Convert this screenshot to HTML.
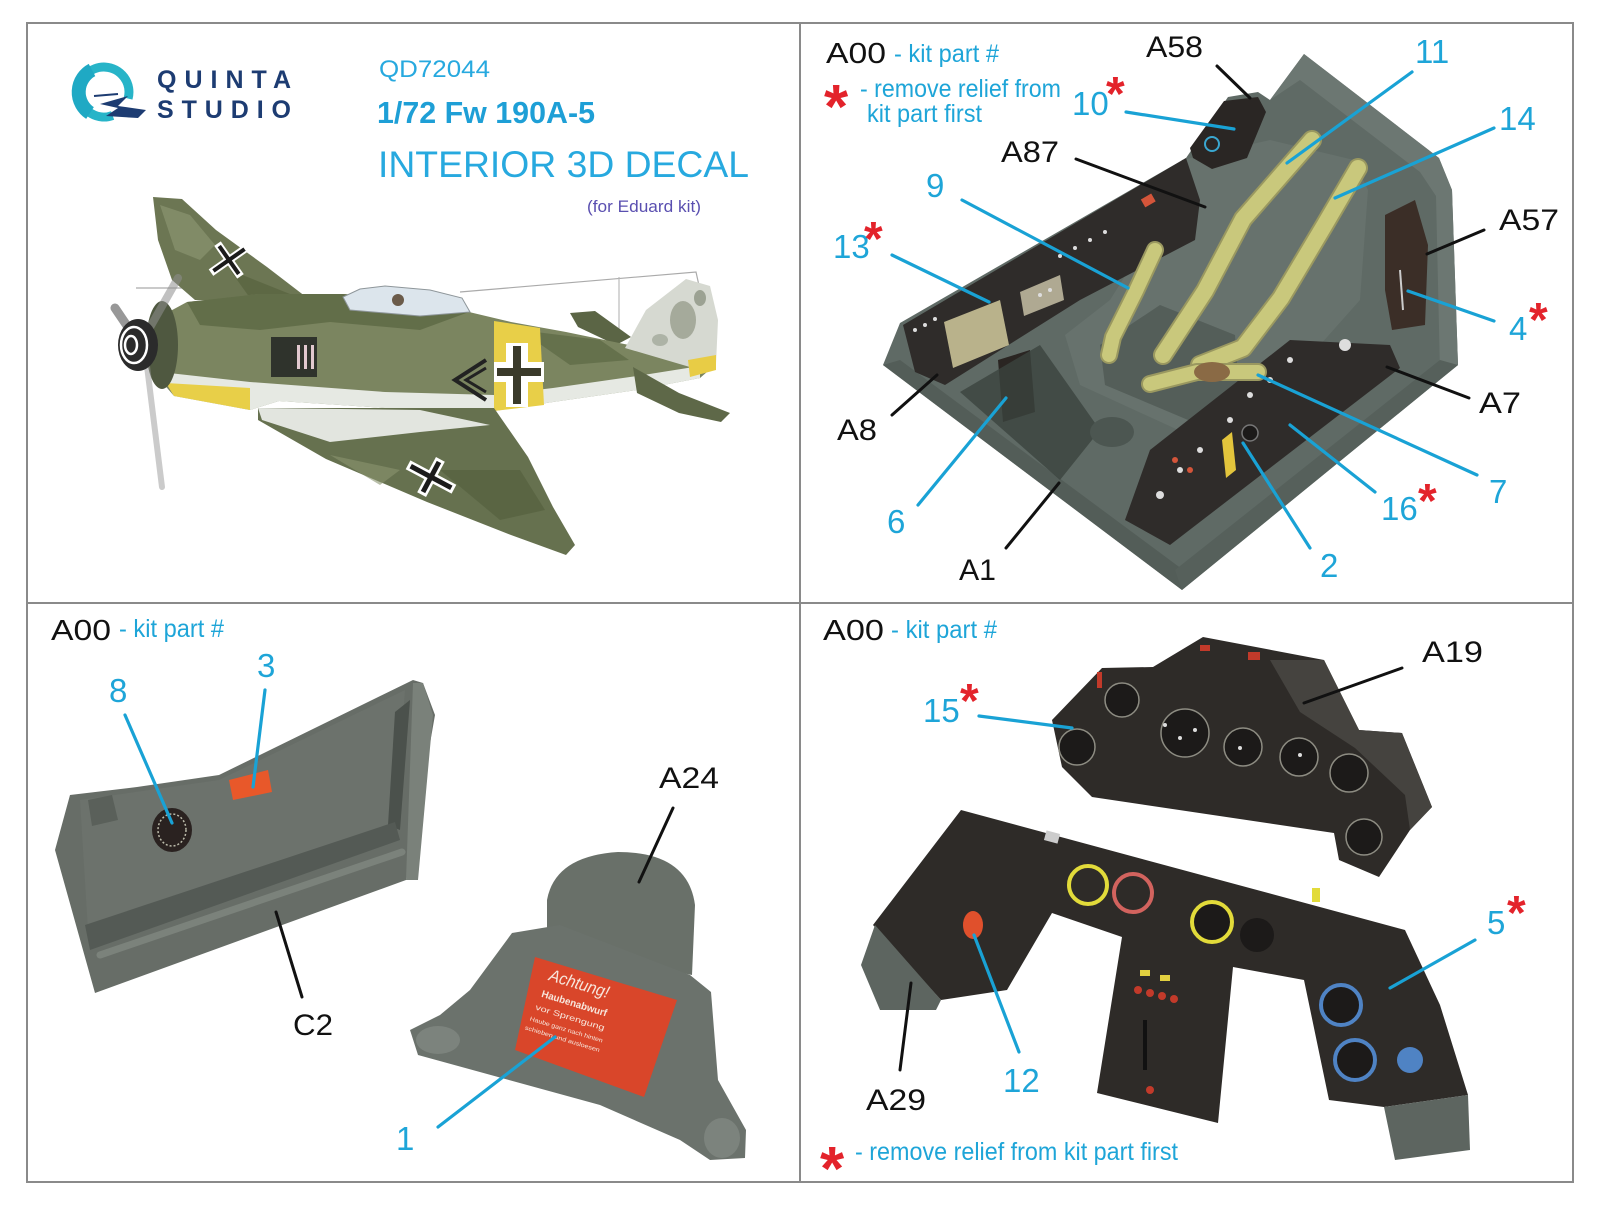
<!DOCTYPE html>
<html><head><meta charset="utf-8"><style>
html,body{margin:0;padding:0;background:#fff;}
svg{display:block;}
text{font-family:"Liberation Sans",Arial,sans-serif;}
</style></head><body>
<svg width="1600" height="1205" viewBox="0 0 1600 1205" xmlns="http://www.w3.org/2000/svg">
<rect width="1600" height="1205" fill="#fff"/>

<!-- ===== TOP LEFT: logo & title ===== -->
<path d="M112.6,115.5 A25,25 0 1 1 128.1,98.5" fill="none" stroke="#27b4c8" stroke-width="9"/>
<path d="M90,113 A25,25 0 0 1 92,70" fill="none" stroke="#1fa9c4" stroke-width="14"/>
<polygon points="100,104 128,96 118,106 146,110 138,118 106,116 118,108" fill="#1d3c72"/>
<line x1="94" y1="96" x2="118" y2="94" stroke="#1d3c72" stroke-width="2"/>
<text x="157" y="88" font-size="25" font-weight="bold" fill="#1d3c72" textLength="134">QUINTA</text>
<text x="157" y="118" font-size="25" font-weight="bold" fill="#1d3c72" textLength="134">STUDIO</text>
<text x="379" y="77" font-size="24" fill="#27a9df" textLength="111" lengthAdjust="spacingAndGlyphs">QD72044</text>
<text x="377" y="123" font-size="31" font-weight="bold" fill="#1e9fd6" textLength="218" lengthAdjust="spacingAndGlyphs">1/72 Fw 190A-5</text>
<text x="378" y="177" font-size="37" fill="#27a9df" textLength="371" lengthAdjust="spacingAndGlyphs">INTERIOR 3D DECAL</text>
<text x="587" y="212" font-size="17" fill="#5a4fb0" textLength="114" lengthAdjust="spacingAndGlyphs">(for Eduard kit)</text>

<!-- plane -->
<g>
<line x1="136" y1="288" x2="190" y2="288" stroke="#aaa" stroke-width="1.2"/>
<polyline points="460,292 696,272 700,290" fill="none" stroke="#aaa" stroke-width="1.2"/>
<line x1="619" y1="277" x2="619" y2="380" stroke="#bbb" stroke-width="1.2"/>
<!-- far wing -->
<polygon points="153,197 182,199 216,230 267,267 310,300 195,300 172,280 158,240" fill="#6c7653"/>
<polygon points="160,205 190,215 215,245 200,260 175,250" fill="#8a9470" opacity="0.7"/>
<polygon points="230,270 300,298 250,298" fill="#57623f" opacity="0.7"/>
<g transform="translate(229,260) rotate(-35)">
<rect x="-22" y="-4" width="44" height="8" fill="#fff"/><rect x="-4" y="-20" width="8" height="40" fill="#fff"/>
<rect x="-19" y="-2" width="38" height="4" fill="#1b1b1b"/><rect x="-2" y="-17" width="4" height="34" fill="#1b1b1b"/>
</g>
<!-- far stabilizer -->
<polygon points="570,313 595,311 631,337 616,345 578,327" fill="#5b6545"/>
<!-- fuselage -->
<path d="M150,322 L187,302 L258,294 L343,294 L400,298 L469,312 L511,322 L566,332 L629,345 L700,352 L715,365 L700,378 L637,390 L553,402 L494,411 L385,408 L279,401 L250,410 L174,396 L150,368 Z" fill="#7b8560"/>
<path d="M187,302 L258,294 L343,294 L400,298 L469,312 L420,330 L330,322 L260,330 L200,325 Z" fill="#5d6844" opacity="0.8"/>
<path d="M520,330 L600,340 L629,360 L570,365 Z" fill="#5d6844" opacity="0.7"/>
<path d="M160,372 L250,382 L385,392 L494,395 L553,388 L637,376 L700,366 L700,378 L637,390 L553,402 L494,411 L385,408 L279,401 L250,410 L174,396 Z" fill="#e6e9e3"/>
<!-- fin -->
<path d="M625,348 L646,310 L686,279 L710,286 L718,320 L716,364 L700,370 Z" fill="#d6d9d1"/>
<ellipse cx="683" cy="320" rx="13" ry="19" fill="#7d8470" opacity="0.55"/>
<ellipse cx="700" cy="298" rx="6" ry="8" fill="#6d7460" opacity="0.55"/>
<ellipse cx="660" cy="340" rx="8" ry="6" fill="#7d8470" opacity="0.45"/>
<polygon points="688,360 716,355 716,370 690,377" fill="#e8cc45"/>
<!-- canopy -->
<polygon points="343,297 360,289 385,286 430,290 462,298 470,312 420,316 350,310" fill="#dce5ec" stroke="#8e969a" stroke-width="1"/>
<circle cx="398" cy="300" r="6" fill="#6b5b4a"/>
<!-- hatch -->
<rect x="271" y="337" width="46" height="40" fill="#2f332c"/>
<rect x="297" y="345" width="3" height="24" fill="#e2c9cf"/><rect x="304" y="345" width="3" height="24" fill="#e2c9cf"/><rect x="311" y="345" width="3" height="24" fill="#e2c9cf"/>
<!-- yellow -->
<polygon points="494,321 540,328 544,405 494,411" fill="#e8cf48"/>
<polygon points="166,383 250,388 250,410 174,396" fill="#e8cf48"/>
<!-- fuselage cross -->
<rect x="506" y="343" width="22" height="64" fill="#fff"/><rect x="494" y="362" width="50" height="20" fill="#fff"/>
<rect x="513" y="346" width="8" height="58" fill="#3a3a2a"/><rect x="497" y="368" width="44" height="8" fill="#3a3a2a"/>
<!-- chevron -->
<polyline points="486,360 455,380 486,400" fill="none" stroke="#222" stroke-width="4"/>
<polyline points="486,368 466,380 486,392" fill="none" stroke="#222" stroke-width="3"/>
<!-- near stabilizer -->
<polygon points="633,367 679,393 730,413 721,422 679,413 637,393" fill="#5e6848"/>
<!-- near wing -->
<path d="M258,408 L494,408 L528,457 L553,507 L575,545 L566,555 L511,535 L427,502 L326,459 L258,420 Z" fill="#66714f"/>
<path d="M258,408 L420,410 L490,425 L420,432 L330,442 L262,420 Z" fill="#e2e5df"/>
<path d="M440,470 L520,470 L545,510 L500,520 Z" fill="#56613f" opacity="0.7"/>
<path d="M330,455 L400,470 L380,485 Z" fill="#8a9470" opacity="0.6"/>
<g transform="translate(431,477) rotate(28)">
<rect x="-26" y="-5" width="52" height="10" fill="#fff"/><rect x="-5" y="-20" width="10" height="40" fill="#fff"/>
<rect x="-23" y="-2.5" width="46" height="5" fill="#1b1b1b"/><rect x="-2.5" y="-17" width="5" height="34" fill="#1b1b1b"/>
</g>
<!-- cowl & spinner -->
<ellipse cx="162" cy="345" rx="16" ry="44" fill="#4f5840"/>
<line x1="140" y1="345" x2="178" y2="278" stroke="#8f8f8f" stroke-width="8" opacity="0.55" stroke-linecap="round"/>
<line x1="140" y1="345" x2="115" y2="308" stroke="#555" stroke-width="9" opacity="0.6" stroke-linecap="round"/>
<line x1="145" y1="350" x2="162" y2="487" stroke="#999" stroke-width="6" opacity="0.5" stroke-linecap="round"/>
<ellipse cx="138" cy="345" rx="20" ry="26" fill="#2b2b2b"/>
<ellipse cx="134" cy="345" rx="13" ry="18" fill="none" stroke="#fff" stroke-width="2.5"/>
<ellipse cx="131" cy="345" rx="6" ry="9" fill="none" stroke="#fff" stroke-width="2.5"/>
</g>

<!-- ===== TOP RIGHT: cockpit tub ===== -->
<polygon points="1304,54 1439,158 1452,190 1458,365 1182,590 883,365 900,323 1186,158 1228,97 1258,92 1270,100" fill="#5f6a65"/>
<polygon points="1304,54 1439,158 1452,190 1458,365 1440,372 1436,196 1420,172 1300,80 1270,100" fill="#6c7772"/>
<polygon points="883,365 1182,590 1190,575 900,360" fill="#535d58"/>
<polygon points="1182,590 1458,365 1440,360 1175,570" fill="#56605b"/>
<!-- seat -->
<polygon points="1182,160 1270,140 1354,160 1368,190 1360,300 1320,345 1250,430 1200,440 1080,385 1065,335 1110,300 1160,220" fill="#67726d"/>
<polygon points="1100,345 1160,305 1235,335 1240,405 1200,425 1105,385" fill="#545e59"/>
<!-- left console -->
<polygon points="903,325 1186,158 1200,200 1195,240 1080,300 945,385 915,372" fill="#2f2c2a"/>
<polygon points="944,322 1000,300 1009,345 953,368" fill="#b9b28b"/>
<polygon points="1020,292 1060,275 1064,300 1024,316" fill="#cfc9ad" opacity="0.8"/>
<rect x="1142" y="196" width="12" height="9" fill="#d4553a" transform="rotate(-30 1148 200)"/>
<g fill="#ddd"><circle cx="915" cy="330" r="2"/><circle cx="925" cy="325" r="2"/><circle cx="935" cy="319" r="2"/><circle cx="1040" cy="295" r="2"/><circle cx="1050" cy="290" r="2"/><circle cx="1060" cy="256" r="2"/><circle cx="1075" cy="248" r="2"/><circle cx="1090" cy="240" r="2"/><circle cx="1105" cy="232" r="2"/></g>
<polygon points="998,360 1030,350 1035,412 1003,422" fill="#2a2522"/>
<polygon points="960,392 1040,345 1100,430 1060,480" fill="#3b433f" opacity="0.8"/>
<ellipse cx="1112" cy="432" rx="22" ry="15" fill="#4c5651"/>
<!-- right console -->
<polygon points="1150,450 1290,340 1390,345 1400,368 1170,545 1125,520" fill="#2f2c2a"/>
<g fill="#ddd"><circle cx="1345" cy="345" r="6"/><circle cx="1290" cy="360" r="3"/><circle cx="1270" cy="380" r="3"/><circle cx="1250" cy="395" r="3"/><circle cx="1230" cy="420" r="3"/><circle cx="1200" cy="450" r="3"/><circle cx="1180" cy="470" r="3"/><circle cx="1160" cy="495" r="4"/></g>
<g fill="#d4553a"><circle cx="1175" cy="460" r="3"/><circle cx="1190" cy="470" r="3"/></g>
<circle cx="1250" cy="433" r="8" fill="#1c1a19" stroke="#777" stroke-width="1.5"/>
<polygon points="1222,440 1232,432 1236,470 1226,478" fill="#e3c53c"/>
<!-- A57 panel -->
<polygon points="1385,215 1415,200 1428,245 1425,325 1392,330 1385,290" fill="#3b2e27"/>
<line x1="1400" y1="270" x2="1403" y2="310" stroke="#ccc" stroke-width="2"/>
<!-- A58 -->
<polygon points="1190,148 1224,101 1258,97 1266,112 1247,158 1212,169 1193,158" fill="#2a2624"/>
<circle cx="1212" cy="144" r="7" fill="none" stroke="#3aa7d0" stroke-width="2"/>
<!-- belts -->
<g fill="none" stroke-linecap="round" stroke-linejoin="round">
<polyline points="1312,140 1243,219 1205,291 1163,355" stroke="#9a9860" stroke-width="20"/>
<polyline points="1312,140 1243,219 1205,291 1163,355" stroke="#c9c87c" stroke-width="16"/>
<polyline points="1358,168 1324,226 1281,298 1243,348 1200,365" stroke="#9a9860" stroke-width="20"/>
<polyline points="1358,168 1324,226 1281,298 1243,348 1200,365" stroke="#c9c87c" stroke-width="16"/>
<polyline points="1155,250 1136,291 1113,337 1109,355" stroke="#9a9860" stroke-width="18"/>
<polyline points="1155,250 1136,291 1113,337 1109,355" stroke="#c9c87c" stroke-width="14"/>
<polyline points="1258,372 1197,372 1150,384" stroke="#9a9860" stroke-width="18"/>
<polyline points="1258,372 1197,372 1150,384" stroke="#c9c87c" stroke-width="14"/>
</g>
<ellipse cx="1212" cy="372" rx="18" ry="10" fill="#8a6a45"/>

<!-- ===== BOTTOM LEFT ===== -->
<polygon points="70,795 137,787 219,775 413,680 423,683 435,715 406,880 95,993 55,850" fill="#676d67"/>
<polygon points="80,800 219,780 405,690 395,825 88,930" fill="#6c726c"/>
<polygon points="395,712 410,700 400,830 388,825" fill="#4b514c"/>
<polygon points="413,683 423,683 433,715 418,880 406,880" fill="#7a817a"/>
<polygon points="85,925 395,822 400,840 90,950" fill="#545a55"/>
<line x1="100" y1="955" x2="402" y2="852" stroke="#7b827b" stroke-width="7" stroke-linecap="round"/>
<polygon points="88,800 112,795 118,820 92,826" fill="#5a605a"/>
<ellipse cx="172" cy="830" rx="20" ry="22" fill="#2a2220"/>
<ellipse cx="172" cy="830" rx="14" ry="16" fill="none" stroke="#bba" stroke-width="1.5" stroke-dasharray="2 2"/>
<polygon points="229,780 268,770 272,792 233,800" fill="#e8582a"/>
<!-- A24 -->
<path d="M547,945 L547,900 Q555,856 618,852 Q688,852 695,905 L692,975 Z" fill="#697069"/>
<polygon points="512,933 560,925 690,975 711,992 718,1080 746,1130 745,1158 710,1160 680,1140 600,1105 418,1055 410,1030 440,1015 470,990" fill="#6b726c"/>
<ellipse cx="438" cy="1040" rx="22" ry="14" fill="#7c837d"/>
<ellipse cx="722" cy="1138" rx="18" ry="20" fill="#7c837d"/>
<polygon points="535,957 677,1000 644,1097 515,1050" fill="#d9462a"/>
<g transform="translate(548,980) rotate(17)" fill="#f7e6dc">
<text x="0" y="0" font-size="17" font-style="italic" textLength="62" lengthAdjust="spacingAndGlyphs">Achtung!</text>
<text x="-2" y="18" font-size="10" font-weight="bold" textLength="68" lengthAdjust="spacingAndGlyphs">Haubenabwurf</text>
<text x="-4" y="32" font-size="8" textLength="72" lengthAdjust="spacingAndGlyphs">vor Sprengung</text>
<text x="-6" y="44" font-size="6" textLength="76" lengthAdjust="spacingAndGlyphs">Haube ganz nach hinten</text>
<text x="-8" y="54" font-size="6" textLength="78" lengthAdjust="spacingAndGlyphs">schieben und ausloesen</text>
</g>

<!-- ===== BOTTOM RIGHT ===== -->
<polygon points="1052,720 1102,668 1153,667 1203,637 1324,660 1359,730 1402,733 1432,807 1410,830 1379,877 1339,860 1334,833 1092,797 1062,767" fill="#2e2b28"/>
<polygon points="1270,660 1324,660 1359,730 1402,733 1432,807 1410,830 1405,795 1355,748 1300,712" fill="#45433f"/>
<g fill="#1c1a19" stroke="#8d8c82" stroke-width="1.5">
<circle cx="1077" cy="747" r="18"/><circle cx="1122" cy="700" r="17"/><circle cx="1185" cy="733" r="24"/><circle cx="1243" cy="747" r="19"/><circle cx="1299" cy="757" r="19"/><circle cx="1349" cy="773" r="19"/><circle cx="1364" cy="837" r="18"/>
</g>
<g fill="#ddd"><circle cx="1165" cy="725" r="2"/><circle cx="1180" cy="738" r="2"/><circle cx="1195" cy="730" r="2"/><circle cx="1240" cy="748" r="2"/><circle cx="1300" cy="755" r="2"/></g>
<rect x="1097" y="672" width="5" height="16" fill="#c23a2a"/>
<rect x="1200" y="645" width="10" height="6" fill="#c23a2a"/><rect x="1248" y="652" width="12" height="8" fill="#c23a2a"/>
<!-- lower panel -->
<polygon points="961,810 1405,930 1440,1005 1468,1095 1384,1107 1329,1100 1304,980 1233,967 1218,1123 1097,1093 1122,937 1052,913 1007,990 941,1000 873,925" fill="#2e2b28"/>
<polygon points="861,965 875,925 941,1000 936,1010 880,1010" fill="#5d6560"/>
<polygon points="1384,1107 1468,1095 1470,1150 1395,1160" fill="#5d6560"/>
<circle cx="1088" cy="885" r="19" fill="none" stroke="#e2db3a" stroke-width="4"/>
<circle cx="1133" cy="893" r="19" fill="none" stroke="#d2635e" stroke-width="4"/>
<circle cx="1212" cy="922" r="20" fill="#1c1a19" stroke="#e2db3a" stroke-width="4"/>
<circle cx="1257" cy="935" r="17" fill="#1c1a19"/>
<circle cx="1341" cy="1005" r="20" fill="#1c1a19" stroke="#4f83c4" stroke-width="4"/>
<circle cx="1355" cy="1060" r="20" fill="#1c1a19" stroke="#4f83c4" stroke-width="4"/>
<circle cx="1410" cy="1060" r="13" fill="#4f83c4"/>
<ellipse cx="973" cy="925" rx="10" ry="14" fill="#e0502c"/>
<rect x="1045" y="832" width="14" height="10" fill="#ccc" transform="rotate(15 1052 837)"/>
<rect x="1312" y="888" width="8" height="14" fill="#e2db3a"/>
<g fill="#e2d040"><rect x="1140" y="970" width="10" height="6"/><rect x="1160" y="975" width="10" height="6"/></g>
<g fill="#c23a2a"><circle cx="1138" cy="990" r="4"/><circle cx="1150" cy="993" r="4"/><circle cx="1162" cy="996" r="4"/><circle cx="1174" cy="999" r="4"/><circle cx="1150" cy="1090" r="4"/></g>
<rect x="1143" y="1020" width="4" height="50" fill="#111"/>

<!-- ===== Frame ===== -->
<rect x="27" y="23" width="1546" height="1159" fill="none" stroke="#8a8a8a" stroke-width="2"/>
<line x1="800" y1="23" x2="800" y2="1182" stroke="#8a8a8a" stroke-width="2"/>
<line x1="27" y1="603" x2="1573" y2="603" stroke="#8a8a8a" stroke-width="2"/>

<!-- ===== Leader lines ===== -->
<g stroke="#111" stroke-width="3" stroke-linecap="round">
<line x1="1217" y1="66" x2="1250" y2="98"/>
<line x1="1076" y1="159" x2="1205" y2="207"/>
<line x1="1484" y1="230" x2="1427" y2="254"/>
<line x1="1387" y1="367" x2="1469" y2="398"/>
<line x1="937" y1="375" x2="892" y2="415"/>
<line x1="1059" y1="483" x2="1006" y2="548"/>
<line x1="673" y1="808" x2="639" y2="882"/>
<line x1="276" y1="912" x2="302" y2="997"/>
<line x1="1402" y1="668" x2="1304" y2="703"/>
<line x1="911" y1="983" x2="900" y2="1070"/>
</g>
<g stroke="#19a2d5" stroke-width="3.2" stroke-linecap="round">
<line x1="1126" y1="112" x2="1234" y2="129"/>
<line x1="1412" y1="72" x2="1287" y2="163"/>
<line x1="1494" y1="128" x2="1335" y2="198"/>
<line x1="962" y1="200" x2="1128" y2="288"/>
<line x1="892" y1="255" x2="989" y2="302"/>
<line x1="1408" y1="291" x2="1494" y2="321"/>
<line x1="1258" y1="375" x2="1477" y2="475"/>
<line x1="1290" y1="425" x2="1375" y2="492"/>
<line x1="1243" y1="443" x2="1310" y2="548"/>
<line x1="1006" y1="398" x2="918" y2="505"/>
<line x1="265" y1="690" x2="253" y2="787"/>
<line x1="125" y1="715" x2="172" y2="823"/>
<line x1="438" y1="1127" x2="555" y2="1037"/>
<line x1="979" y1="716" x2="1072" y2="728"/>
<line x1="1475" y1="940" x2="1390" y2="988"/>
<line x1="974" y1="935" x2="1019" y2="1052"/>
</g>

<!-- ===== Labels ===== -->
<g fill="#111" font-size="30">
<text x="826" y="63" font-size="29" textLength="60" lengthAdjust="spacingAndGlyphs">A00</text>
<text x="51" y="640" font-size="29" textLength="60" lengthAdjust="spacingAndGlyphs">A00</text>
<text x="823" y="640" font-size="29" textLength="61" lengthAdjust="spacingAndGlyphs">A00</text>
<text x="1146" y="57" textLength="57" lengthAdjust="spacingAndGlyphs">A58</text>
<text x="1001" y="162" textLength="58" lengthAdjust="spacingAndGlyphs">A87</text>
<text x="1499" y="230" textLength="60" lengthAdjust="spacingAndGlyphs">A57</text>
<text x="837" y="440" textLength="40" lengthAdjust="spacingAndGlyphs">A8</text>
<text x="959" y="580" textLength="37" lengthAdjust="spacingAndGlyphs">A1</text>
<text x="1479" y="413" textLength="42" lengthAdjust="spacingAndGlyphs">A7</text>
<text x="1422" y="662" textLength="61" lengthAdjust="spacingAndGlyphs">A19</text>
<text x="866" y="1110" textLength="60" lengthAdjust="spacingAndGlyphs">A29</text>
<text x="659" y="788" textLength="60" lengthAdjust="spacingAndGlyphs">A24</text>
<text x="293" y="1035" textLength="40" lengthAdjust="spacingAndGlyphs">C2</text>
</g>
<g fill="#1ea5d8" font-size="25">
<text x="894" y="62" textLength="105" lengthAdjust="spacingAndGlyphs">- kit part #</text>
<text x="119" y="637" textLength="105" lengthAdjust="spacingAndGlyphs">- kit part #</text>
<text x="891" y="638" textLength="106" lengthAdjust="spacingAndGlyphs">- kit part #</text>
<text x="860" y="97" textLength="201" lengthAdjust="spacingAndGlyphs">- remove relief from</text>
<text x="867" y="122" textLength="115" lengthAdjust="spacingAndGlyphs">kit part first</text>
<text x="855" y="1160" textLength="323" lengthAdjust="spacingAndGlyphs">- remove relief from kit part first</text>
</g>
<g fill="#1ea5d8" font-size="33">
<text x="1072" y="115">10</text>
<text x="1415" y="63">11</text>
<text x="1499" y="130">14</text>
<text x="926" y="197">9</text>
<text x="833" y="258">13</text>
<text x="1509" y="340">4</text>
<text x="1489" y="503">7</text>
<text x="1381" y="520">16</text>
<text x="1320" y="577">2</text>
<text x="887" y="533">6</text>
<text x="257" y="677">3</text>
<text x="109" y="702">8</text>
<text x="396" y="1150">1</text>
<text x="923" y="722">15</text>
<text x="1487" y="934">5</text>
<text x="1003" y="1092">12</text>
</g>
<g fill="#e3232b" font-weight="bold">
<text x="824" y="128" font-size="62">*</text>
<text x="820" y="1190" font-size="62">*</text>
<text x="1106" y="110" font-size="48">*</text>
<text x="864" y="255" font-size="48">*</text>
<text x="1529" y="336" font-size="48">*</text>
<text x="1418" y="517" font-size="48">*</text>
<text x="960" y="717" font-size="48">*</text>
<text x="1507" y="929" font-size="48">*</text>
</g>
</svg>
</body></html>
